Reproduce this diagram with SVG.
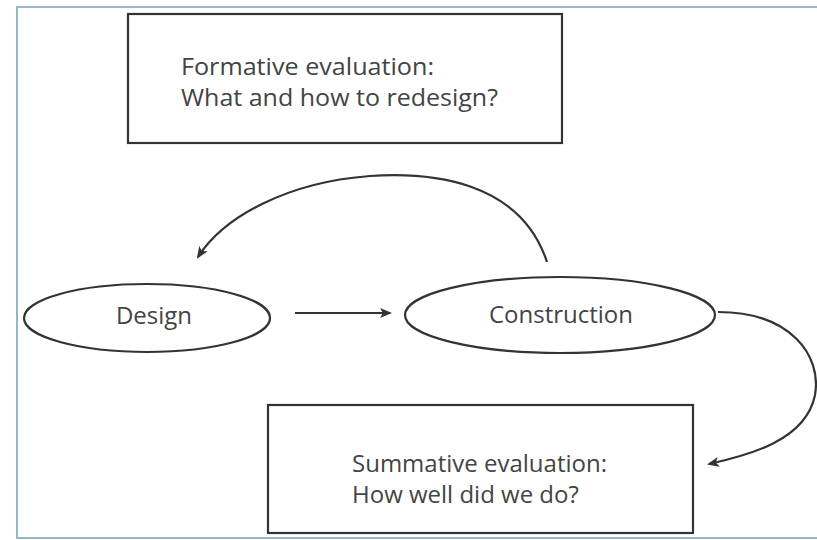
<svg xmlns="http://www.w3.org/2000/svg" width="817" height="540" viewBox="0 0 817 540">
<defs>
<style>
.box{fill:#fff;stroke:#333;stroke-width:2.2}
.ell{fill:#fff;stroke:#333;stroke-width:2.2}
.t{font-family:"Open Sans","Liberation Sans",sans-serif;font-size:24px;fill:#444}
.c{fill:none;stroke:#333;stroke-width:2.2}
</style>
<marker id="ah" markerWidth="12" markerHeight="10" refX="10" refY="5" orient="auto" markerUnits="userSpaceOnUse">
<path d="M0,0 L12,5 L0,10 L3,5 Z" fill="#333"/>
</marker>
</defs>
<rect width="817" height="540" fill="#fff"/>
<rect x="17" y="7" width="820" height="531" fill="none" stroke="#94b8c4" stroke-width="2"/>
<g id="formative">
<rect class="box" x="128" y="14" width="434" height="129"/>
<text class="t" x="181" y="75" textLength="253" lengthAdjust="spacingAndGlyphs">Formative evaluation:</text>
<text class="t" x="181" y="106" textLength="317" lengthAdjust="spacingAndGlyphs">What and how to redesign?</text>
</g>
<g id="design">
<ellipse class="ell" cx="147" cy="318" rx="123" ry="34"/>
<text class="t" x="154" y="324" text-anchor="middle">Design</text>
</g>
<g id="construction">
<ellipse class="ell" cx="560" cy="315" rx="155" ry="38"/>
<text class="t" x="561" y="323" text-anchor="middle">Construction</text>
</g>
<g id="summative">
<rect class="box" x="268" y="405" width="425" height="128"/>
<text class="t" x="352" y="472">Summative evaluation:</text>
<text class="t" x="352" y="503">How well did we do?</text>
</g>
<g id="connectors">
<path class="c" d="M295,313 L390,313" marker-end="url(#ah)"/>
<path class="c" d="M547,262 C520,180 430,172 370,176 C290,182 225,215 198,257" marker-end="url(#ah)"/>
<path class="c" d="M718,312 C790,312 822,355 815,395 C806,440 750,455 709,464" marker-end="url(#ah)"/>
</g>
</svg>
